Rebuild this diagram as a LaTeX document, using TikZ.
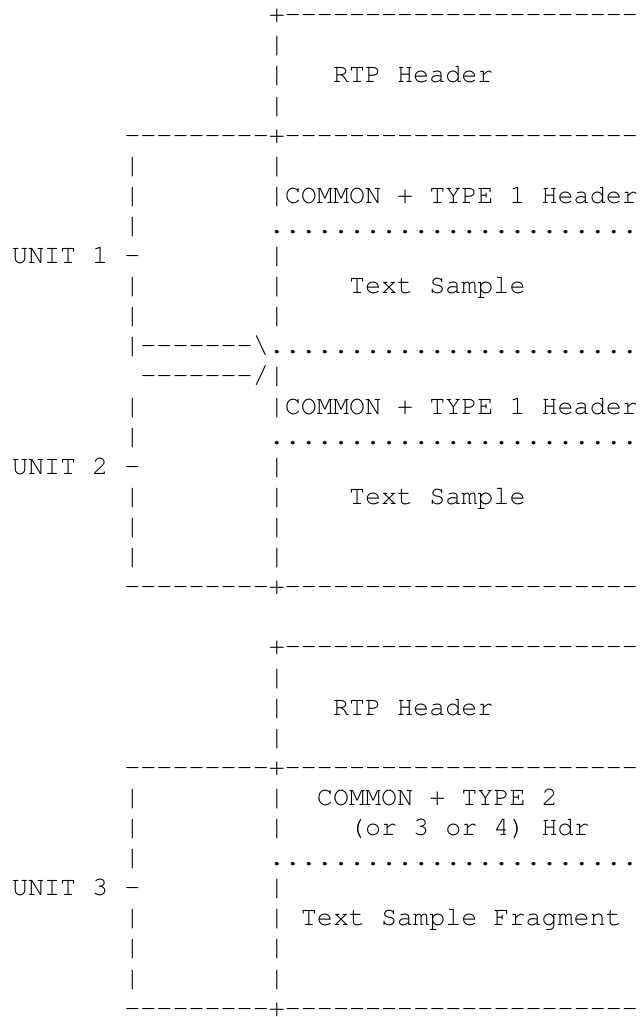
\documentclass[tikz,border=0pt]{standalone}
\usepackage{fontspec}
\newfontfamily\asciifont[Ligatures=TeXOff]{texgyrecursor-regular.otf}
\tikzset{
    txt/.style={font=\asciifont\fontsize{26.75}{30.1}\selectfont,
        anchor=base west, inner sep=0pt, outer sep=0pt},
}

\begin{document}
\begin{tikzpicture}[x=16.05pt,y=-30.1pt]
    % frame
    \useasboundingbox (-0.748,-0.757) rectangle (39.315,33.03);
    \clip (-0.748,-0.757) rectangle (39.315,33.03);
    % first packet: RTP header
    \node[txt] (topa) at (16,0) {+----------------------};
    \node[txt] (rtpa) at (20,2) {RTP Header};
    \node[txt] (sepa) at (7,4) {---------+----------------------};
    % unit 1
    \node[txt] (coma) at (16,6) {|COMMON + TYPE 1 Header};
    \node[txt] (dota) at (16,7) {.......................};
    \node[txt] (unita) at (0,8) {UNIT 1 -};
    \node[txt] (smpa) at (21,9) {Text Sample};
    \node[txt] (brka) at (7,11) {|-------\textbackslash.......................};
    \node[txt] (brkb) at (8,12) {-------/|};
    % unit 2
    \node[txt] (comb) at (16,13) {|COMMON + TYPE 1 Header};
    \node[txt] (dotb) at (16,14) {.......................};
    \node[txt] (unitb) at (0,15) {UNIT 2 -};
    \node[txt] (smpb) at (21,16) {Text Sample};
    \node[txt] (sepb) at (7,19) {---------+----------------------};
    % second packet: RTP header
    \node[txt] (topb) at (16,21) {+----------------------};
    \node[txt] (rtpb) at (20,23) {RTP Header};
    \node[txt] (sepc) at (7,25) {---------+----------------------};
    % unit 3
    \node[txt] (comc) at (19,26) {COMMON + TYPE 2};
    \node[txt] (hdrc) at (21,27) {(or 3 or 4) Hdr};
    \node[txt] (dotc) at (16,28) {.......................};
    \node[txt] (unitc) at (0,29) {UNIT 3 -};
    \node[txt] (smpc) at (18,30) {Text Sample Fragment};
    \node[txt] (sepd) at (7,33) {---------+----------------------};
    % bars
    \foreach \r in {1,2,3,5,8,9,10,15,16,17,18,22,23,24,26,27,29,30,31,32}
        \node[txt] (rbar\r) at (16,\r) {|};
    \foreach \r in {5,6,7,9,10,13,14,16,17,18,26,27,28,30,31,32}
        \node[txt] (lbar\r) at (7,\r) {|};
\end{tikzpicture}
\end{document}
